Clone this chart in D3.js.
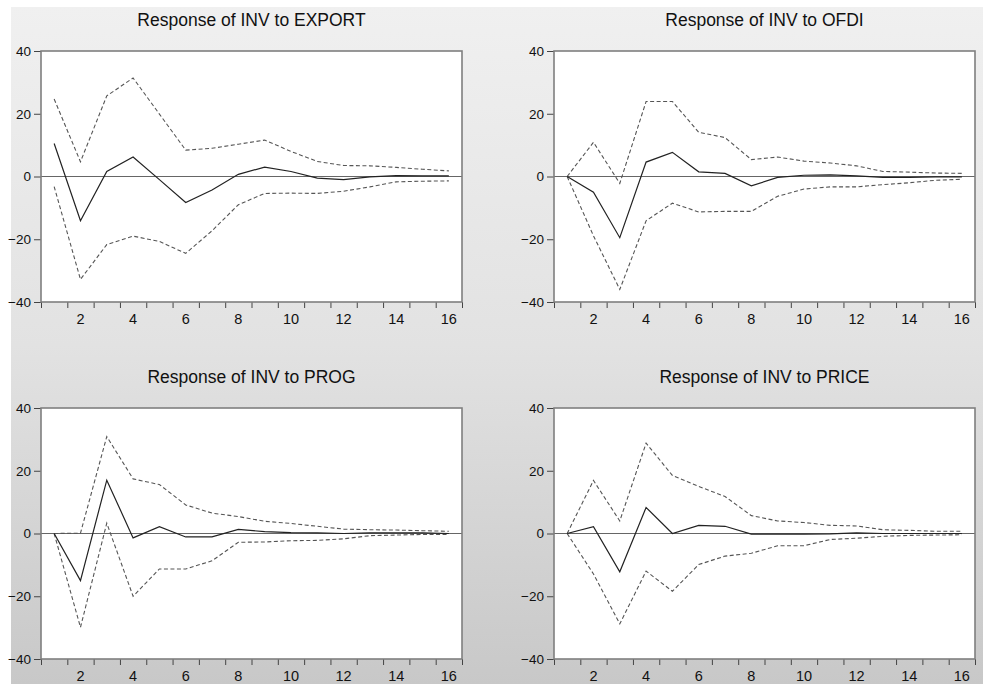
<!DOCTYPE html>
<html>
<head>
<meta charset="utf-8">
<script src="https://cdn.jsdelivr.net/npm/d3@7"></script>
<style>
  html, body { margin: 0; padding: 0; background: #ffffff; }
  svg { display: block; }
  text { font-family: "Liberation Sans", Arial, sans-serif; fill: #111; }
</style>
</head>
<body>
<svg id="chart" width="983" height="684"></svg>
<script>
// ---- data ----
const periods = d3.range(1, 17);
const xTickLabels = [2, 4, 6, 8, 10, 12, 14, 16];
const yTicks = [-40, -20, 0, 20, 40];
const titles = ["Response of INV to EXPORT", "Response of INV to OFDI",
                "Response of INV to PROG", "Response of INV to PRICE"];

const exportResp  = [10.5, -14.1, 1.6, 6.2, -1.0, -8.3, -4.3, 0.7, 3.0, 1.6, -0.5, -1.0, -0.1, 0.3, 0.2, 0.2];
const exportUpper = [24.7, 4.7, 25.7, 31.4, 19.9, 8.4, 9.0, 10.3, 11.6, 8.0, 4.8, 3.5, 3.4, 2.9, 2.3, 1.8];
const exportLower = [-3.2, -32.8, -21.7, -19.0, -20.7, -24.5, -17.3, -9.0, -5.4, -5.3, -5.4, -4.7, -3.3, -1.7, -1.5, -1.4];

const ofdiResp  = [0, -5.0, -19.5, 4.6, 7.7, 1.5, 1.0, -3.0, -0.3, 0.4, 0.5, 0.2, -0.3, -0.3, -0.1, -0.1];
const ofdiUpper = [0, 10.9, -2.2, 23.9, 23.9, 14.1, 12.4, 5.4, 6.2, 4.9, 4.3, 3.4, 1.6, 1.4, 1.1, 1.0];
const ofdiLower = [0, -18.9, -36.0, -14.1, -8.5, -11.3, -11.1, -11.1, -6.3, -4.0, -3.3, -3.3, -2.6, -2.0, -1.2, -0.9];

const progResp  = [0, -15.0, 17.0, -1.4, 2.2, -1.1, -1.1, 1.3, 0.6, 0.3, 0.2, 0, 0.2, 0.2, 0.2, 0];
const progUpper = [0, 0.1, 30.9, 17.4, 15.6, 9.1, 6.5, 5.4, 3.9, 3.2, 2.3, 1.4, 1.2, 1.1, 0.9, 0.7];
const progLower = [0, -29.9, 3.3, -20.0, -11.3, -11.3, -8.7, -2.8, -2.7, -2.3, -2.2, -1.7, -0.7, -0.5, -0.3, -0.3];

const priceResp  = [0, 2.2, -12.2, 8.3, 0, 2.6, 2.3, -0.2, -0.2, -0.2, -0.1, 0.2, 0, 0, 0, 0];
const priceUpper = [0, 16.9, 4.0, 28.8, 18.5, 15.0, 11.8, 5.7, 4.0, 3.5, 2.6, 2.4, 1.2, 1.0, 0.7, 0.7];
const priceLower = [0, -12.9, -28.8, -12.0, -18.4, -9.9, -7.2, -6.3, -3.9, -3.9, -1.9, -1.5, -0.9, -0.6, -0.5, -0.4];

const panelsData = [
  { resp: exportResp, upper: exportUpper, lower: exportLower },
  { resp: ofdiResp,   upper: ofdiUpper,   lower: ofdiLower },
  { resp: progResp,   upper: progUpper,   lower: progLower },
  { resp: priceResp,  upper: priceUpper,  lower: priceLower }
];

// ---- layout ----
const svg = d3.select("#chart");
const W = 983, H = 684;

const defs = svg.append("defs");
const grad = defs.append("linearGradient").attr("id", "bg")
  .attr("x1", 0).attr("y1", 0).attr("x2", 0).attr("y2", 1);
grad.append("stop").attr("offset", "0%").attr("stop-color", "#f0f0f0");
grad.append("stop").attr("offset", "50%").attr("stop-color", "#e2e2e2");
grad.append("stop").attr("offset", "100%").attr("stop-color", "#c8c8c8");

svg.append("rect").attr("width", W).attr("height", H).attr("fill", "#ffffff");
svg.append("rect").attr("x", 11).attr("y", 7).attr("width", W - 11).attr("height", H - 7)
  .attr("fill", "url(#bg)");

const frames = [
  { x0: 41,  x1: 462, y0: 51,  y1: 302 },
  { x0: 554, x1: 975, y0: 51,  y1: 302 },
  { x0: 41,  x1: 462, y0: 408, y1: 659 },
  { x0: 554, x1: 975, y0: 408, y1: 659 }
];

frames.forEach((f, i) => {
  const d = panelsData[i];
  const g = svg.append("g");

  const xBand = d3.scaleBand().domain(periods).range([f.x0, f.x1]).padding(0);
  const xc = p => xBand(p) + xBand.bandwidth() / 2;
  const y = d3.scaleLinear().domain([-40, 40]).range([f.y1, f.y0]);

  // title
  g.append("text")
    .attr("x", (f.x0 + f.x1) / 2)
    .attr("y", f.y0 - 25)
    .attr("text-anchor", "middle")
    .attr("font-size", "17.5px")
    .text(titles[i]);

  // plot area
  g.append("rect")
    .attr("x", f.x0).attr("y", f.y0)
    .attr("width", f.x1 - f.x0).attr("height", f.y1 - f.y0)
    .attr("fill", "#ffffff");

  // y axis
  const yAxis = d3.axisLeft(y).tickValues(yTicks).tickSize(7).tickPadding(3)
    .tickFormat(d3.format("d"));
  const ya = g.append("g").attr("transform", `translate(${f.x0},0)`).call(yAxis);
  ya.select(".domain").remove();
  ya.selectAll("line").attr("stroke", "#444").attr("stroke-width", 1);
  ya.selectAll("text").attr("font-size", "13.5px")
    .style("font-family", '"Liberation Sans", Arial, sans-serif').attr("fill", "#111");

  // x axis: ticks at band boundaries, labels at even periods
  const xLin = d3.scaleLinear().domain([0.5, 16.5]).range([f.x0, f.x1]);
  const boundaries = d3.range(0.5, 17, 1);
  const xaTicks = d3.axisBottom(xLin).tickValues(boundaries).tickSize(6).tickFormat("");
  const xa = g.append("g").attr("transform", `translate(0,${f.y1})`).call(xaTicks);
  xa.select(".domain").remove();
  xa.selectAll("line").attr("stroke", "#444").attr("stroke-width", 1);

  g.selectAll(".xlab").data(xTickLabels).enter().append("text")
    .attr("x", p => xc(p))
    .attr("y", f.y1 + 22)
    .attr("text-anchor", "middle")
    .attr("font-size", "14.5px")
    .text(p => p);

  // zero line
  g.append("line")
    .attr("x1", f.x0).attr("x2", f.x1)
    .attr("y1", y(0)).attr("y2", y(0))
    .attr("stroke", "#666").attr("stroke-width", 1.2);

  const line = d3.line().x((v, k) => xc(periods[k])).y(v => y(v));

  g.append("path").attr("d", line(d.upper))
    .attr("fill", "none").attr("stroke", "#555").attr("stroke-width", 1.1)
    .attr("stroke-dasharray", "4,2.5");
  g.append("path").attr("d", line(d.lower))
    .attr("fill", "none").attr("stroke", "#555").attr("stroke-width", 1.1)
    .attr("stroke-dasharray", "4,2.5");
  g.append("path").attr("d", line(d.resp))
    .attr("fill", "none").attr("stroke", "#222").attr("stroke-width", 1.2);

  // frame
  g.append("rect")
    .attr("x", f.x0).attr("y", f.y0)
    .attr("width", f.x1 - f.x0).attr("height", f.y1 - f.y0)
    .attr("fill", "none").attr("stroke", "#7f7f7f").attr("stroke-width", 1.6);
});
</script>
</body>
</html>
